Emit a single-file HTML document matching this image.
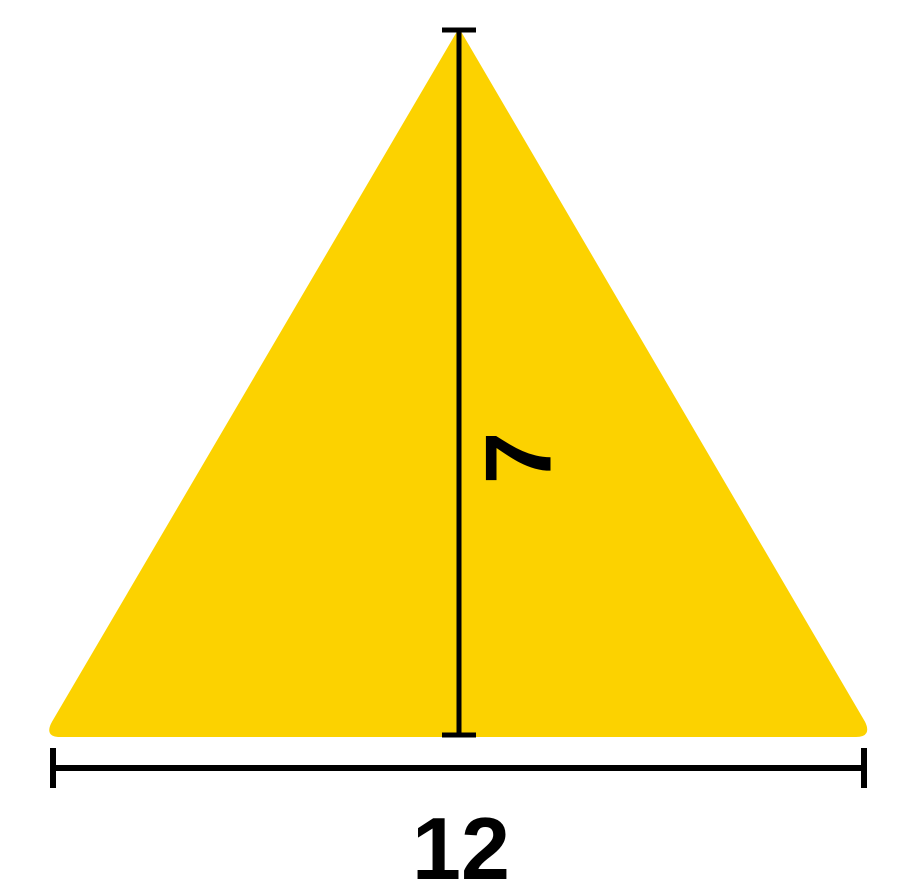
<!DOCTYPE html>
<html><head><meta charset="utf-8"><style>
html,body{margin:0;padding:0;background:#fff;width:901px;height:891px;overflow:hidden}
</style></head><body>
<svg width="901" height="891" viewBox="0 0 901 891" xmlns="http://www.w3.org/2000/svg">
<path d="M459 30 L864 722 Q871 736 856 736 L60 736 Q45 736 53 722 Z" fill="#FCD200" stroke="#FCD200" stroke-width="2" stroke-linejoin="round"/>
<g stroke="#000" stroke-width="5">
<line x1="459" y1="30" x2="459" y2="735"/>
<line x1="442" y1="30" x2="476" y2="30"/>
<line x1="442" y1="735" x2="476" y2="735"/>
</g>
<text x="0" y="0" transform="translate(518,458) rotate(-90)" text-anchor="middle" dominant-baseline="central" font-family="Liberation Sans, sans-serif" font-weight="bold" font-size="94" fill="#000">7</text>
<g stroke="#000" stroke-width="6">
<line x1="53" y1="768" x2="864" y2="768"/>
<line x1="53" y1="748" x2="53" y2="788"/>
<line x1="864" y1="748" x2="864" y2="788"/>
</g>
<text x="461" y="879" text-anchor="middle" font-family="Liberation Sans, sans-serif" font-weight="bold" font-size="88" fill="#000">12</text>
</svg>
</body></html>
